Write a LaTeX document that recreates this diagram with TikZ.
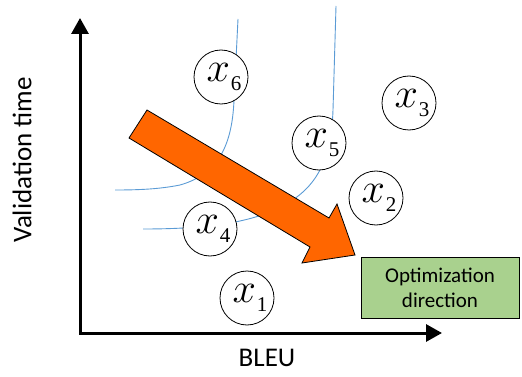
\RequirePackage{fix-cm}
\documentclass[tikz,border=0pt]{standalone}
\usepackage[no-math]{fontspec}
\setmainfont{Carlito}
\newfontfamily\subfont{Liberation Serif}
\usetikzlibrary{arrows.meta}
\definecolor{curveblue}{RGB}{91,155,213}
\definecolor{arroworange}{RGB}{255,102,0}
\definecolor{boxgreen}{RGB}{169,209,142}
\newcommand{\xlab}[1]{\hspace*{6pt}{\fontsize{42}{42}\selectfont$x$}\kern1pt\raisebox{-9pt}{\fontsize{21}{21}\selectfont\subfont #1}}
\begin{document}
\begin{tikzpicture}[x=1pt,y=-1pt,
  axis/.style={line width=3pt,{Triangle[length=16pt,width=17pt]}-{Triangle[length=16pt,width=17pt]}},
  level/.style={draw=curveblue,line width=0.9pt},
  sol/.style={circle,draw=black,line width=0.8pt,fill=white,minimum size=54pt,inner sep=0pt},
  bigarrow/.style={fill=arroworange,draw=black,line width=0.8pt,line join=miter},
  note/.style={draw=black,line width=0.8pt,fill=boxgreen,minimum width=158pt,minimum height=61pt,align=center,inner sep=0pt,font=\fontsize{21}{25}\selectfont},
  axlabel/.style={font=\fontsize{27}{30}\selectfont}]
\useasboundingbox (0,0) rectangle (522,377);
% axes
\coordinate (ytip) at (80,18);
\coordinate (O) at (80,333);
\coordinate (xtip) at (442,333);
\draw[axis] (ytip) -- (O) -- (xtip);
% level curves
\coordinate (c1a) at (238,19);
\coordinate (c1b) at (234,100);
\coordinate (c1c) at (180,185);
\coordinate (c1d) at (115,190);
\draw[level] (c1a) -- (c1b) .. controls (232,150) and (215,175) .. (c1c) .. controls (160,189) and (140,190) .. (c1d);
\coordinate (c2a) at (336,6);
\coordinate (c2b) at (333,110);
\coordinate (c2c) at (270,212);
\coordinate (c2d) at (143,229);
\draw[level] (c2a) -- (c2b) .. controls (331,170) and (310,195) .. (c2c) .. controls (240,224) and (200,229) .. (c2d);
% solutions
\node[sol] (x6) at (221,77) {\xlab{6}};
\node[sol] (x5) at (319,143) {\xlab{5}};
\node[sol] (x3) at (409,103) {\xlab{3}};
\node[sol] (x2) at (376,198) {\xlab{2}};
\node[sol] (x4) at (210,229) {\xlab{4}};
\node[sol] (x1) at (247,298) {\xlab{1}};
% optimization arrow
\draw[bigarrow] (147,110) -- (329,218) -- (337,204) -- (355,255) -- (302,263) -- (310,247) -- (129,138) -- cycle;
% box
\node[note] (dir) at (440,287.5) {Optimization\\direction};
% axis labels
\node[axlabel,rotate=90] (ylab) at (22,160) {Validation time};
\node[axlabel] (xlab) at (267,358) {BLEU};
\end{tikzpicture}
\end{document}
